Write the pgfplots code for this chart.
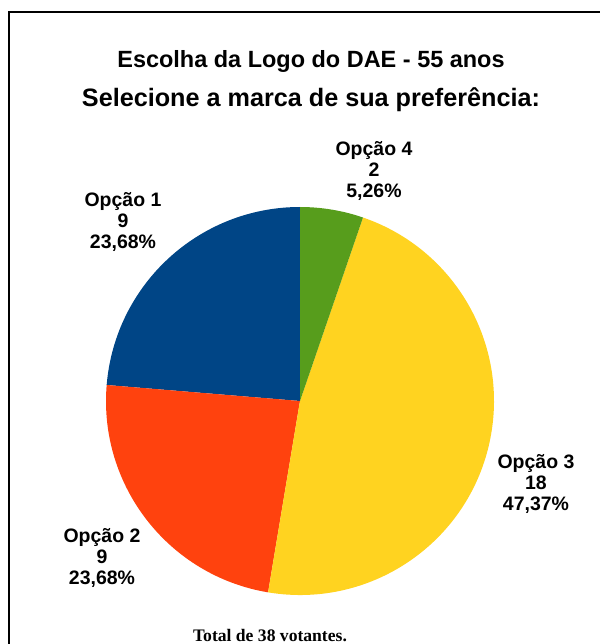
\documentclass[border=0pt]{standalone}
\usepackage{pgfplots}
\pgfplotsset{compat=1.18}
\usepackage{fontspec}
\setmainfont{Liberation Sans}
\newfontfamily\serifface{Liberation Serif}
\definecolor{c1}{HTML}{004586}
\definecolor{c2}{HTML}{FF420E}
\definecolor{c3}{HTML}{FFD320}
\definecolor{c4}{HTML}{579D1C}
\begin{document}
\begin{tikzpicture}
\begin{axis}[
  scale only axis, width=450pt, height=483pt,
  xmin=0, xmax=600, ymin=0, ymax=644,
  hide axis, clip=false,
]
\coordinate (BL) at (axis cs:0,0);
\coordinate (TR) at (axis cs:600,644);
% pie: votes (Opção 1, 2, 3, 4), counterclockwise from 90 degrees; total 38
\foreach \v/\col [remember=\e as \s (initially 90)] in {9/c1,9/c2,18/c3,2/c4} {
  \pgfmathsetmacro\e{\s+\v*360/38}
  \edef\tmp{\noexpand\fill[\col] (axis cs:300,243) -- ([shift={(\s:145.5pt)}]axis cs:300,243) arc[start angle=\s, end angle=\e, radius=145.5pt] -- cycle;}
  \tmp
}
\draw[line width=1.5pt] (axis cs:8.5,0) -- (axis cs:8.5,632) -- (axis cs:600,632);
\node[anchor=base, font=\bfseries\fontsize{17.6}{20}\selectfont] at (axis cs:311,576) {Escolha da Logo do DAE - 55 anos};
\node[anchor=base, font=\bfseries\fontsize{18.9}{22}\selectfont] at (axis cs:311,537) {Selecione a marca de sua preferência:};
\tikzset{lbl/.style={align=center, inner sep=0pt, font=\bfseries\fontsize{14.6}{15.4}\selectfont}}
\node[lbl] at (axis cs:123,422) {Opção 1\\9\\23,68\%};
\node[lbl] at (axis cs:102,86) {Opção 2\\9\\23,68\%};
\node[lbl] at (axis cs:536,160) {Opção 3\\18\\47,37\%};
\node[lbl] at (axis cs:374,473) {Opção 4\\2\\5,26\%};
\node[anchor=base, inner sep=0pt, font=\serifface\bfseries\fontsize{13.2}{15}\selectfont] at (axis cs:270,2.5) {Total de 38 votantes.};
\end{axis}
\pgfresetboundingbox
\path[use as bounding box] (BL) rectangle (TR);
\end{tikzpicture}
\end{document}
